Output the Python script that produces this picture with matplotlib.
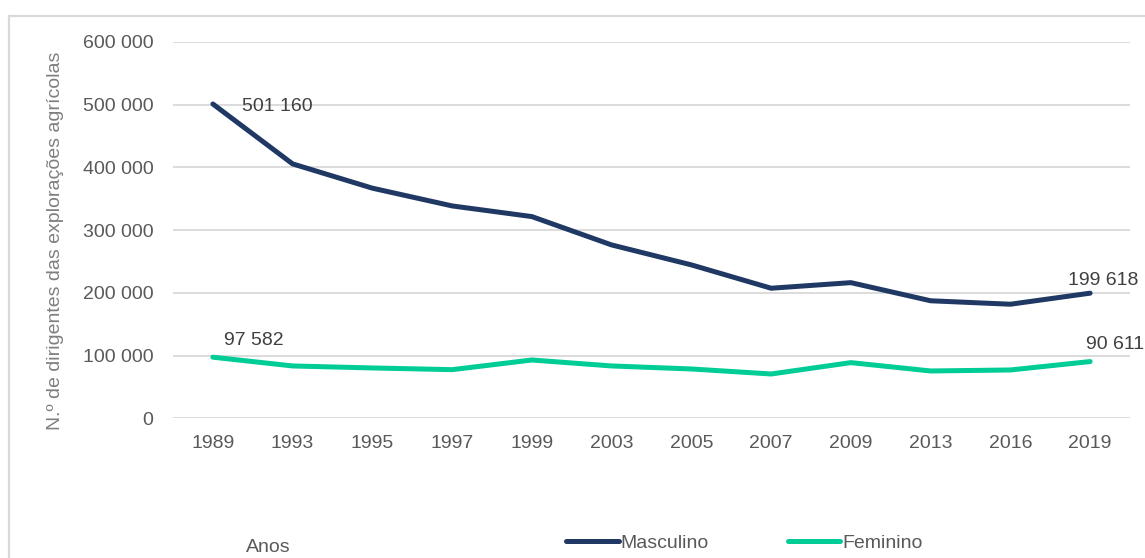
import matplotlib
matplotlib.use("Agg")
import matplotlib.pyplot as plt
from matplotlib.lines import Line2D

years = ["1989", "1993", "1995", "1997", "1999", "2003", "2005", "2007", "2009", "2013", "2016", "2019"]
masculino = [501160, 405700, 367000, 338700, 321700, 276500, 244700, 207500, 216400, 187500, 182000, 199618]
feminino = [97582, 83600, 80400, 77700, 93100, 83600, 78800, 70800, 88900, 75600, 77200, 90611]
yticks = [0, 100000, 200000, 300000, 400000, 500000, 600000]
ytick_labels = ["0", "100 000", "200 000", "300 000", "400 000", "500 000", "600 000"]

plt.rcParams['font.family'] = ['Liberation Sans', 'DejaVu Sans']

W, H = 1145, 558
FS = 14
fig = plt.figure(figsize=(W / 100, H / 100), dpi=100)

def px(x0, y0, x1, y1):
    return [x0 / W, 1 - y1 / H, (x1 - x0) / W, (y1 - y0) / H]

# outer border (top and left edges visible)
bc = "#d9d9d9"
fig.add_artist(Line2D([8.5 / W, 1.0], [1 - 15.5 / H, 1 - 15.5 / H], transform=fig.transFigure,
                      color=bc, linewidth=1.6))
fig.add_artist(Line2D([8.5 / W, 8.5 / W], [0, 1 - 15.5 / H], transform=fig.transFigure,
                      color=bc, linewidth=1.6))

ax = fig.add_axes(px(173, 42, 1130, 418.4))
x = list(range(len(years)))
navy = "#203864"
green = "#00CC96"
LW = 3.6
ax.plot(x, masculino, color=navy, linewidth=LW, solid_capstyle="round", solid_joinstyle="round", zorder=3)
ax.plot(x, feminino, color=green, linewidth=LW, solid_capstyle="round", solid_joinstyle="round", zorder=3)

ax.set_xlim(-0.5, 11.5)
ax.set_ylim(0, 600000)
ax.set_yticks(yticks)
ax.set_yticklabels(ytick_labels)
ax.set_xticks(x)
ax.set_xticklabels(years)
ax.grid(axis="y", color="#d9d9d9", linewidth=1.3)
ax.set_axisbelow(True)
for s in ax.spines.values():
    s.set_visible(False)
ax.tick_params(axis="both", length=0, labelsize=FS, labelcolor="#595959")
ax.tick_params(axis="y", pad=14)
ax.tick_params(axis="x", pad=12)

tc = "#404040"
def fmt(v):
    return f"{v:,}".replace(",", " ")

ax.annotate(fmt(masculino[0]), (0, masculino[0]), xytext=(21, -2),
            textcoords="offset points", ha="left", va="center", fontsize=FS, color=tc)
ax.annotate(fmt(feminino[0]), (0, feminino[0]), xytext=(8, 12),
            textcoords="offset points", ha="left", va="center", fontsize=FS, color=tc)
ax.annotate(fmt(masculino[-1]), (11, masculino[-1]), xytext=(-16, 9),
            textcoords="offset points", ha="left", va="center", fontsize=FS, color=tc, annotation_clip=False)
ax.annotate(fmt(feminino[-1]), (11, feminino[-1]), xytext=(-3, 12),
            textcoords="offset points", ha="left", va="center", fontsize=FS, color=tc, annotation_clip=False)

fig.text(56 / W, 1 - 241 / H, "N.º de dirigentes das explorações agrícolas", rotation=90,
         ha="center", va="center", fontsize=FS, color="#7f7f7f")
fig.text(268 / W, 1 - 547 / H, "Anos", ha="center", va="center", fontsize=FS, color="#595959")

handles = [Line2D([], [], color=navy, linewidth=LW, solid_capstyle="round"),
           Line2D([], [], color=green, linewidth=LW, solid_capstyle="round")]
fig.legend(handles, ["Masculino", "Feminino"], loc="center left",
           bbox_to_anchor=(566 / W, 1 - 543 / H), ncol=2, frameon=False,
           fontsize=FS, labelcolor="#595959", handlelength=2.7, handletextpad=0.12,
           columnspacing=4.05, borderpad=0, borderaxespad=0)

fig.savefig("out.png", dpi=100)
